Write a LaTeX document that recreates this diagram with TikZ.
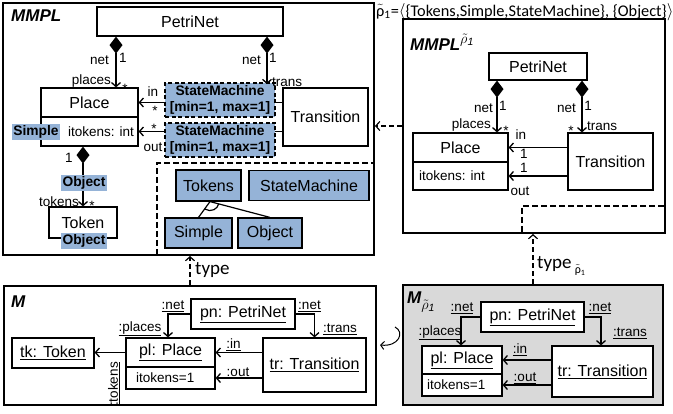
\documentclass[tikz,border=0pt]{standalone}
\usepackage{fontspec}
\setmainfont{Liberation Sans}
\newfontfamily\carl{Carlito}
\usetikzlibrary{arrows.meta,calc}
\definecolor{tagblue}{RGB}{149,179,215}
\definecolor{modelgray}{RGB}{217,217,217}
\newcommand\fsz[1]{\fontsize{#1}{#1}\selectfont}
\newcommand\rhotil{\ensuremath{\tilde{\mbox{ρ}}}}
\newcommand\rhomath[1]{{\normalfont\fsz{#1}$\tilde{\rho}_{\mathit{1}}$}}

\begin{document}
\begin{tikzpicture}[x=1pt,y=-1pt,
  frame/.style={draw, line width=2pt, inner sep=0pt},
  cls/.style={draw, line width=1.2pt, fill=white, inner sep=0pt, font=\fsz{16}},
  lbl/.style={inner sep=0pt, font=\fsz{13.5}},
  tag/.style={fill=tagblue, inner sep=1.5pt, font=\bfseries\fsz{13.8}},
  smtag/.style={draw, dash pattern=on 4pt off 2.5pt, line width=1.6pt, fill=tagblue,
    inner sep=0pt, align=center, font=\bfseries\fontsize{13.8}{16}\selectfont,
    minimum width=110pt, minimum height=34pt},
  kind/.style={draw, line width=1.2pt, fill=tagblue, inner sep=0pt, font=\fsz{16}},
  comp/.style={line width=1.3pt, {Diamond[length=17pt,width=13pt]}-{Straight Barb[length=4pt,width=9pt]}},
  assoc/.style={line width=1.3pt, -{Straight Barb[length=4pt,width=9pt]}},
  typeof/.style={line width=1.2pt, dash pattern=on 5pt off 3pt, -{Straight Barb[length=4pt,width=9pt]}},
  bound/.style={draw, line width=2pt, dash pattern=on 6pt off 3pt, inner sep=0pt},
  gen/.style={line width=1.2pt},
  title/.style={anchor=west, inner sep=0pt, font=\bfseries\itshape\fsz{17}},
  note/.style={anchor=west, inner sep=0pt, font=\carl\fsz{19}}
]
\useasboundingbox (0,0) rectangle (673,414);

% ---------------- metamodel MMPL ----------------
\node[frame, minimum width=371pt, minimum height=252pt] (mmpl) at (188.5,129) {};
\node[title] (mmplname) at (11,16) {MMPL};

\node[cls, minimum width=186pt, minimum height=29pt] (pn) at (190,21.5) {PetriNet};
\node[cls, minimum width=97pt, minimum height=29pt] (plh) at (89.5,102.5) {Place};
\node[cls, minimum width=97pt, minimum height=29pt] (pla) at (89.5,131.5) {};
\node[lbl, anchor=west] (platt) at (68,131.5) {itokens: int};
\node[cls, minimum width=85pt, minimum height=58pt] (tr) at (325.5,117) {Transition};
\node[cls, minimum width=68pt, minimum height=31pt] (tok) at (83,222.5) {Token};

\coordinate (lcx) at (116,0);
\coordinate (rcx) at (267,0);
\coordinate (tcx) at (83,0);

\draw[comp] (pn.south -| lcx) -- (plh.north -| lcx);
\draw[assoc] (tr.west |- plh.east) -- (plh.east);
\draw[assoc] (tr.west |- pla.east) -- (pla.east);
\draw[comp] (pla.south -| tcx) -- (tok.north -| tcx);

\node[smtag] (sm1) at (220,100) {StateMachine\\{[min=1, max=1]}};
\node[smtag] (sm2) at (220,140) {StateMachine\\{[min=1, max=1]}};
\draw[comp] (pn.south -| rcx) -- ($(sm1.north -| rcx)+(0,2)$);

\node[lbl, anchor=east] at (109,60) {net};
\node[lbl] at (123,58) {1};
\node[lbl, anchor=east] at (111,81) {places};
\node[lbl] at (125,89) {*};
\node[lbl, anchor=east] at (261,60) {net};
\node[lbl] at (273,58) {1};
\node[lbl, anchor=west] at (272,82) {trans};
\node[lbl] at (153,92) {in};
\node[lbl] at (155,111) {*};
\node[lbl] at (154,129) {*};
\node[lbl] at (153,147) {out};
\node[lbl] at (69,158) {1};
\node[lbl, anchor=east] at (79,202) {tokens};
\node[lbl] at (92,206) {*};

\node[tag] (tsimple) at (36,132) {Simple};
\node[tag] (tobj1) at (84,183) {Object};
\node[tag] (tobj2) at (84,241) {Object};

% kinds of the typing library
\node[bound, minimum width=217pt, minimum height=92pt] (dbox) at (265.5,209) {};
\node[kind, minimum width=65pt, minimum height=31pt] (ktok) at (208.5,185.5) {Tokens};
\node[kind, minimum width=120pt, minimum height=30pt] (ksm) at (309,185.5) {StateMachine};
\node[kind, minimum width=67pt, minimum height=30pt] (ksim) at (198.5,233) {Simple};
\node[kind, minimum width=64pt, minimum height=30pt] (kobj) at (270,233) {Object};
\coordinate (apex) at ($(ktok.south)+(1.5,0)$);
\draw[gen] (ksim.north) -- (apex) -- (kobj.north);
\draw[gen] ($(apex)+(235.9:9pt)$) arc[start angle=235.9, end angle=344.2, radius=9pt];

% ---------------- restricted metamodel ----------------
\node[anchor=west, inner sep=0pt, font=\carl\fsz{16.3}] (rho) at (376,12)
  {\rhotil\textsubscript{1}=$\langle$\{Tokens,Simple,StateMachine\}, \{Object\}$\rangle$};

\node[frame, minimum width=262pt, minimum height=214pt] (rmm) at (534,126) {};
\node[title] (rmmname) at (410,42) {MMPL\raisebox{7pt}{\rhomath{15}}};

\node[cls, minimum width=98pt, minimum height=27pt] (rpn) at (538,66.5) {PetriNet};
\node[cls, minimum width=95pt, minimum height=29pt] (rplh) at (460.5,147.5) {Place};
\node[cls, minimum width=95pt, minimum height=28pt] (rpla) at (460.5,176) {};
\node[lbl, anchor=west] (rplatt) at (419,176) {itokens: int};
\node[cls, minimum width=85pt, minimum height=57pt] (rtr) at (610.5,161.5) {Transition};

\coordinate (rlcx) at (497,0);
\coordinate (rrcx) at (582,0);
\draw[comp] (rpn.south -| rlcx) -- (rplh.north -| rlcx);
\draw[comp] (rpn.south -| rrcx) -- (rtr.north -| rrcx);
\draw[assoc] (rtr.west |- rplh.east) -- (rplh.east);
\draw[assoc] (rtr.west |- rpla.east) -- (rpla.east);

\node[lbl, anchor=east] at (493,108) {net};
\node[lbl] at (503,106) {1};
\node[lbl, anchor=east] at (576,108) {net};
\node[lbl] at (588,106) {1};
\node[lbl, anchor=east] at (491,125) {places};
\node[lbl] at (506,131) {*};
\node[lbl] at (571,131) {*};
\node[lbl, anchor=west] at (587,126) {trans};
\node[lbl] at (521,135) {in};
\node[lbl] at (524,154) {1};
\node[lbl] at (524,168) {1};
\node[lbl] at (520,191) {out};

\node[bound, minimum width=143pt, minimum height=27pt] (rdb) at (593.5,219.5) {};

\draw[typeof] (rmm.west) -- (rmm.west -| mmpl.east);

% ---------------- model M ----------------
\node[frame, minimum width=372pt, minimum height=119pt] (om) at (190,345.5) {};
\node[title] (omname) at (11,302) {M};

\node[cls, minimum width=104pt, minimum height=30pt] (opn) at (243,314) {\underline{pn: PetriNet}};
\node[cls, minimum width=82pt, minimum height=30pt] (otk) at (53,353) {\underline{tk: Token}};
\node[cls, minimum width=89pt, minimum height=29pt] (oplh) at (170.5,352.5) {\underline{pl: Place}};
\node[cls, minimum width=89pt, minimum height=22pt] (opla) at (170.5,378) {};
\node[lbl, anchor=west] (oplatt) at (136,378) {itokens=1};
\node[cls, minimum width=103pt, minimum height=54pt] (otr) at (314.5,365) {\underline{tr: Transition}};

\draw[assoc] (opn.west) -| ($(oplh.north)+(-2.5,0)$);
\draw[assoc] (opn.east) -| (otr.north);
\draw[assoc] (otr.west |- oplh.east) -- (oplh.east);
\draw[assoc] (otr.west |- opla.east) -- (opla.east);
\draw[assoc] (oplh.west) -- (oplh.west -| otk.east);

\node[lbl] at (173,306) {\underline{:net}};
\node[lbl] at (140,329) {\underline{:places}};
\node[lbl] at (309.5,306) {\underline{:net}};
\node[lbl] at (340,329) {\underline{:trans}};
\node[lbl] at (233.5,345) {\underline{:in}};
\node[lbl] at (238,373) {\underline{:out}};
\node[lbl, rotate=90] at (114,384) {\underline{:tokens}};

\draw[typeof] (om.north) -- (om.north |- mmpl.south);
\node[note] at (195,270) {type};

% ---------------- model M restricted ----------------
\node[frame, fill=modelgray, minimum width=260pt, minimum height=120pt] (rm) at (533,345) {};
\node[title] (rmname) at (407,302) {M\raisebox{-6pt}{\rhomath{15}}};

\node[cls, minimum width=103pt, minimum height=30pt] (rpo) at (532.5,317) {\underline{pn: PetriNet}};
\node[cls, minimum width=80pt, minimum height=28pt] (rplo) at (462,360) {\underline{pl: Place}};
\node[cls, minimum width=80pt, minimum height=22pt] (rploa) at (462,385) {};
\node[lbl, anchor=west] (rploatt) at (427,385) {itokens=1};
\node[cls, minimum width=101pt, minimum height=51pt] (rtro) at (602.5,371.5) {\underline{tr: Transition}};

\draw[assoc] (rpo.west) -| ($(rplo.north)+(-1,0)$);
\draw[assoc] (rpo.east) -| ($(rtro.north)+(-1.5,0)$);
\draw[assoc] (rtro.west |- rplo.east) -- (rplo.east);
\draw[assoc] (rtro.west |- rploa.east) -- (rploa.east);

\node[lbl] at (462,308) {\underline{:net}};
\node[lbl] at (440,333) {\underline{:places}};
\node[lbl] at (600,308) {\underline{:net}};
\node[lbl] at (630,333) {\underline{:trans}};
\node[lbl] at (520,350) {\underline{:in}};
\node[lbl] at (525,378) {\underline{:out}};

\draw[typeof] (rm.north) -- (rm.north |- rmm.south);
\node[note] at (537,266) {type\,\raisebox{-5pt}{\fsz{12}\rhotil\textsubscript{1}}};

% flattening of the restricted model back into M
\coordinate (fs) at (395,327);
\coordinate (fe) at (om.east |- 0,345);
\draw[line width=1pt, -{Straight Barb[length=3.5pt,width=8pt]}]
  (fs) .. controls (405,332) and (399,347) .. ($(fe)+(3,0)$);
\end{tikzpicture}
\end{document}
